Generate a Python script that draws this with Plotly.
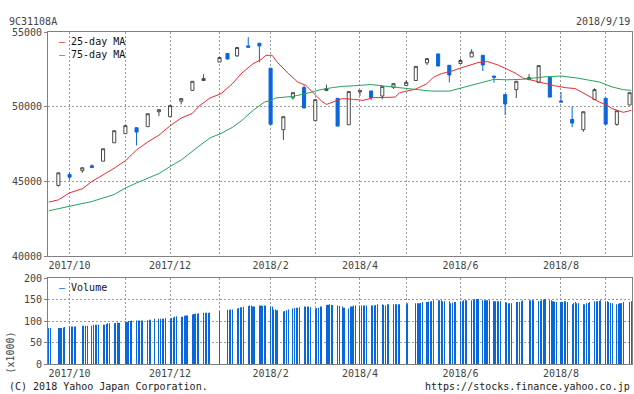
import pandas as pd
import plotly.graph_objects as go

# ---------------- data ----------------
candle_dates = ["2017-09-25", "2017-10-02", "2017-10-10", "2017-10-16", "2017-10-23", "2017-10-30",
                "2017-11-06", "2017-11-13", "2017-11-20", "2017-11-27", "2017-12-04", "2017-12-11",
                "2017-12-18", "2017-12-25", "2018-01-04", "2018-01-09", "2018-01-15", "2018-01-22",
                "2018-01-29", "2018-02-05", "2018-02-13", "2018-02-19", "2018-02-26", "2018-03-05",
                "2018-03-12", "2018-03-19", "2018-03-26", "2018-04-02", "2018-04-09", "2018-04-16",
                "2018-04-23", "2018-05-01", "2018-05-07", "2018-05-14", "2018-05-21", "2018-05-28",
                "2018-06-04", "2018-06-11", "2018-06-18", "2018-06-25", "2018-07-02", "2018-07-09",
                "2018-07-17", "2018-07-23", "2018-07-30", "2018-08-06", "2018-08-13", "2018-08-20",
                "2018-08-27", "2018-09-03", "2018-09-10", "2018-09-18"]
opens = [44720, 45460, 45710, 46040, 46350, 47580, 48190, 48590, 48660, 49660, 49330, 50360,
         51090, 51750, 52990, 53560, 53400, 54070, 54250, 52570, 48460, 50600, 51280, 49060,
         51080, 50560, 48790, 50980, 51050, 50710, 51300, 51410, 51750, 52930, 53530, 52770,
         52890, 53330, 53440, 52050, 50810, 51140, 51810, 51610, 51950, 50380, 49150, 48460,
         50470, 50560, 48810, 50110]
highs = [45570, 45590, 45910, 46130, 47180, 48390, 48730, 48590, 49530, 49800, 50070, 50540,
         51700, 52170, 53290, 53560, 53960, 54660, 54250, 52570, 49330, 50940, 51430, 50470,
         51480, 50560, 51010, 51090, 51050, 51360, 51540, 51750, 52700, 53220, 53530, 52770,
         53220, 53850, 53440, 52050, 50810, 51700, 52190, 52750, 51950, 50980, 50020, 49660,
         51230, 50560, 49730, 50940]
lows = [44650, 45100, 45570, 45880, 46350, 47580, 48190, 47400, 48660, 49370, 49330, 50150,
        51050, 51750, 52990, 53190, 53330, 53980, 52970, 48820, 47760, 50470, 49910, 49060,
        51080, 48700, 48790, 50710, 50450, 50490, 51190, 51410, 51750, 52790, 52720, 51630,
        52890, 53330, 52390, 51610, 49440, 50580, 51810, 51610, 50640, 50310, 48630, 48320,
        50470, 48830, 48720, 50110]
closes = [45570, 45280, 45910, 45930, 47180, 48390, 48730, 48300, 49530, 49800, 50070, 50540,
          51700, 51880, 53290, 53190, 53960, 53980, 54070, 48820, 49330, 50940, 49910, 50470,
          51210, 48700, 51010, 51090, 50620, 51360, 51540, 51630, 52700, 53220, 52720, 52120,
          53090, 53660, 52790, 51970, 50180, 51700, 51950, 52750, 50640, 50310, 48900, 49660,
          51140, 48830, 49730, 50940]

ma25_dates = ["2017-09-19", "2017-09-25", "2017-10-02", "2017-10-10", "2017-10-16", "2017-10-23",
              "2017-10-30", "2017-11-06", "2017-11-13", "2017-11-20", "2017-11-27", "2017-12-04",
              "2017-12-11", "2017-12-18", "2017-12-22", "2017-12-29", "2018-01-05", "2018-01-12",
              "2018-01-18", "2018-01-25", "2018-01-30", "2018-02-02", "2018-02-06", "2018-02-09",
              "2018-02-16", "2018-02-22", "2018-02-27", "2018-03-06", "2018-03-09", "2018-03-12",
              "2018-03-16", "2018-03-22", "2018-03-29", "2018-04-04", "2018-04-10", "2018-04-19",
              "2018-04-24", "2018-04-27", "2018-05-07", "2018-05-14", "2018-05-18", "2018-05-23",
              "2018-05-30", "2018-06-05", "2018-06-12", "2018-06-15", "2018-06-21", "2018-06-28",
              "2018-07-04", "2018-07-09", "2018-07-13", "2018-07-20", "2018-07-27", "2018-08-02",
              "2018-08-09", "2018-08-15", "2018-08-22", "2018-08-27", "2018-08-30", "2018-09-04",
              "2018-09-07", "2018-09-14", "2018-09-19"]
ma25_values = [43610, 43760, 44230, 44500, 44990, 45420, 45880, 46380, 47100, 47640, 48090, 48720,
               49240, 49550, 50020, 50580, 50870, 51540, 52250, 52880, 53150, 53440, 53440, 53000,
               52230, 51650, 51430, 50690, 50360, 50150, 50320, 50540, 50490, 50420, 50600, 50610,
               50640, 50940, 51180, 51540, 51970, 52210, 52400, 52620, 52820, 52950, 53020, 52770,
               52470, 52210, 51920, 51760, 51560, 51400, 51270, 51210, 50760, 50490, 50310, 50090,
               49870, 49620, 49750]

ma75_dates = ["2017-09-19", "2017-10-02", "2017-10-16", "2017-10-30", "2017-11-06", "2017-11-13",
              "2017-11-27", "2017-12-04", "2017-12-11", "2017-12-19", "2017-12-29", "2018-01-05",
              "2018-01-12", "2018-01-18", "2018-01-25", "2018-02-01", "2018-02-06", "2018-02-08",
              "2018-02-19", "2018-02-27", "2018-03-08", "2018-03-16", "2018-03-22", "2018-03-29",
              "2018-04-09", "2018-04-19", "2018-04-26", "2018-05-08", "2018-05-17", "2018-05-28",
              "2018-06-04", "2018-06-12", "2018-06-20", "2018-06-25", "2018-07-03", "2018-07-13",
              "2018-07-27", "2018-08-06", "2018-08-16", "2018-08-27", "2018-08-30", "2018-09-07",
              "2018-09-14", "2018-09-19"]
ma75_values = [43030, 43340, 43650, 44120, 44550, 44890, 45520, 45990, 46430, 47100, 47910, 48210,
               48610, 49080, 49750, 50300, 50460, 50580, 50690, 50870, 51130, 51280, 51360, 51400,
               51480, 51360, 51280, 51190, 51040, 51040, 51230, 51460, 51700, 51830, 51800, 51830,
               52000, 52050, 51920, 51720, 51650, 51320, 51140, 51090]

# daily volume (x1000), one value per trading day in date order
volume_values = [
    84, 84,
    84, 84, 84, 85, 86,
    87, 87, 87, 87, 87,
    89, 89, 89, 89,
    89, 91, 91, 91, 91,
    91, 91, 93, 95, 95,
    95, 96, 96, 96,
    97, 98, 100, 100, 101,
    101, 101, 101, 101, 101,
    102, 103, 103, 105,
    105, 105, 105, 106, 107,
    106, 107, 108, 110, 111,
    110, 110, 112, 113, 113,
    115, 116, 117, 117, 118,
    119, 119, 119, 119, 119,
    123,
    126, 126, 127, 127,
    129, 130, 132, 132, 133,
    135, 136, 136, 134, 134,
    136, 136, 135, 136, 136,
    134, 134, 127, 127, 125,
    122, 123, 125, 127,
    129, 130, 131, 131, 132,
    134, 134, 134, 134, 132,
    129, 130, 131, 134, 134,
    137, 138, 139, 138, 137,
    136, 135, 134, 131,
    129, 134, 134, 136, 136,
    136, 136, 136, 136, 136,
    136, 136, 136, 137, 139,
    139, 137, 136, 139, 139,
    139, 139, 139, 139, 139,
    139, 141,
    141, 141, 141, 142, 144,
    144, 145, 146, 146, 148,
    148, 148, 148, 146, 146,
    146, 141, 143, 144, 144,
    146, 146, 148, 148, 148,
    148, 149, 151, 151, 151,
    148, 148, 148, 148, 148,
    146, 146, 146, 146, 146,
    144, 143, 141, 141, 141,
    144, 144, 144, 146, 148,
    148, 148, 148, 148,
    146, 147, 148, 150, 151,
    148, 148, 146, 145, 144,
    144, 144, 146, 146, 144,
    139, 142, 144, 141, 141,
    139, 139, 141, 142, 144,
    146, 146, 146, 147, 148,
    146, 146, 144, 142, 141,
    139, 140, 141, 142, 144,
    144, 146,
]

market_holidays = ["2017-09-21", "2017-09-22", "2017-10-09", "2017-11-03", "2017-11-23",
                   "2018-01-01", "2018-01-02", "2018-01-03", "2018-01-05", "2018-01-08",
                   "2018-02-12", "2018-03-21", "2018-04-30", "2018-05-03", "2018-05-04",
                   "2018-07-16", "2018-09-17"]
trading_days = [d for d in pd.bdate_range("2017-09-19", "2018-09-19")
                if d.strftime("%Y-%m-%d") not in market_holidays]
volume_dates = trading_days[:len(volume_values)]

grid_dates = ["2017-10-02", "2017-11-06", "2017-12-04", "2018-01-04", "2018-02-05", "2018-03-05",
              "2018-04-02", "2018-05-01", "2018-06-04", "2018-07-02", "2018-08-06", "2018-09-03"]
grid_labels = ["2017/10", "", "2017/12", "", "2018/2", "", "2018/4", "", "2018/6", "", "2018/8", ""]

price_ticks = [40000, 45000, 50000, 55000]
price_labels = ["40000", "45000", "50000", "55000"]
volume_ticks = [0, 50, 100, 150, 200]
volume_labels = ["0", "50", "100", "150", "200"]

# ---------------- styling ----------------
RED = "#ee2a33"
GREEN = "#22a55c"
BLUE = "#0a66dc"
FRAME = "#808080"
GRID = "#9a9a9a"
TXT = "#444444"
FONT = "DejaVu Sans Mono"

W, H = 634, 394
L, R, T, B = 48, 2, 32, 30
PW, PH = W - L - R, H - T - B


def pxx(x):
    return (x - L) / PW


def pxy(y):
    return (H - B - y) / PH


fig = go.Figure()

fig.add_trace(go.Scatter(x=ma25_dates, y=ma25_values, mode="lines", name="25-day MA",
                         line=dict(color=RED, width=1), xaxis="x", yaxis="y"))
fig.add_trace(go.Scatter(x=ma75_dates, y=ma75_values, mode="lines", name="75-day MA",
                         line=dict(color=GREEN, width=1), xaxis="x", yaxis="y"))
fig.add_trace(go.Candlestick(
    x=candle_dates, open=opens, high=highs, low=lows, close=closes, name="price",
    increasing=dict(line=dict(color="#4a4a4a", width=1), fillcolor="white"),
    decreasing=dict(line=dict(color=BLUE, width=1), fillcolor=BLUE),
    whiskerwidth=0, xaxis="x", yaxis="y"))
# very thin bars: plotly expands them to a single visible pixel each
fig.add_trace(go.Bar(x=volume_dates, y=volume_values, name="Volume",
                     marker=dict(color=BLUE, line=dict(width=0)),
                     width=0.06 * 86400000, xaxis="x2", yaxis="y2"))

x_range = ["2017-09-18 12:00", "2018-09-19 12:00"]
axis_common = dict(showline=True, mirror=True, linecolor=FRAME, linewidth=1,
                   showgrid=True, gridcolor=GRID, gridwidth=1, griddash="2px,2px",
                   zeroline=False, automargin=False,
                   tickfont=dict(family=FONT, size=10, color=TXT))

fig.update_layout(
    width=W, height=H,
    margin=dict(l=L, r=R, t=T, b=B, autoexpand=False),
    paper_bgcolor="white", plot_bgcolor="white",
    showlegend=False,
    boxgap=0.45,
    font=dict(family=FONT, size=10, color=TXT),
    xaxis=dict(domain=[0, 1], anchor="y", range=x_range, type="date",
               tickmode="array", tickvals=grid_dates, ticktext=grid_labels,
               ticks="", rangeslider=dict(visible=False), **axis_common),
    yaxis=dict(domain=[(H - B - 256) / PH, 1], anchor="x", range=[40000, 55000],
               tickmode="array", tickvals=price_ticks, ticktext=price_labels,
               ticks="outside", ticklen=3, tickcolor=FRAME, **axis_common),
    xaxis2=dict(domain=[0, 1], anchor="y2", range=x_range, type="date",
                tickmode="array", tickvals=grid_dates, ticktext=grid_labels,
                ticks="", **axis_common),
    yaxis2=dict(domain=[0, (H - B - 278) / PH], anchor="x2", range=[0, 200],
                tickmode="array", tickvals=volume_ticks, ticktext=volume_labels,
                ticks="outside", ticklen=3, tickcolor=FRAME, **axis_common),
)

ann = [
    dict(text="9C31108A", x=pxx(7), y=pxy(21), xanchor="left", color=TXT),
    dict(text="2018/9/19", x=pxx(632), y=pxy(21), xanchor="right", color=TXT),
    dict(text="(C) 2018 Yahoo Japan Corporation.", x=pxx(7), y=pxy(386), xanchor="left", color="#222"),
    dict(text="https://stocks.finance.yahoo.co.jp", x=pxx(632), y=pxy(386), xanchor="right", color="#222"),
    dict(text=f"<span style='color:{RED}'>–</span> 25-day MA", x=pxx(57), y=pxy(41.5), xanchor="left", color="#111"),
    dict(text=f"<span style='color:{GREEN}'>–</span> 75-day MA", x=pxx(57), y=pxy(54), xanchor="left", color="#111"),
    dict(text=f"<span style='color:{BLUE}'>–</span> Volume", x=pxx(57), y=pxy(287.5), xanchor="left", color="#111"),
]
for a in ann:
    fig.add_annotation(text=a["text"], x=a["x"], y=a["y"], xref="paper", yref="paper",
                       xanchor=a["xanchor"], yanchor="middle", showarrow=False,
                       font=dict(family=FONT, size=10, color=a["color"]))
fig.add_annotation(text="(x1000)", x=pxx(9.5), y=pxy(353), xref="paper", yref="paper",
                   xanchor="center", yanchor="middle", textangle=-90, showarrow=False,
                   font=dict(family=FONT, size=10, color=TXT))

fig.write_html("out.html", config={"displayModeBar": False},
               post_script="document.body.style.margin='0';document.body.style.padding='0';"
                           "document.documentElement.style.overflow='hidden';")
